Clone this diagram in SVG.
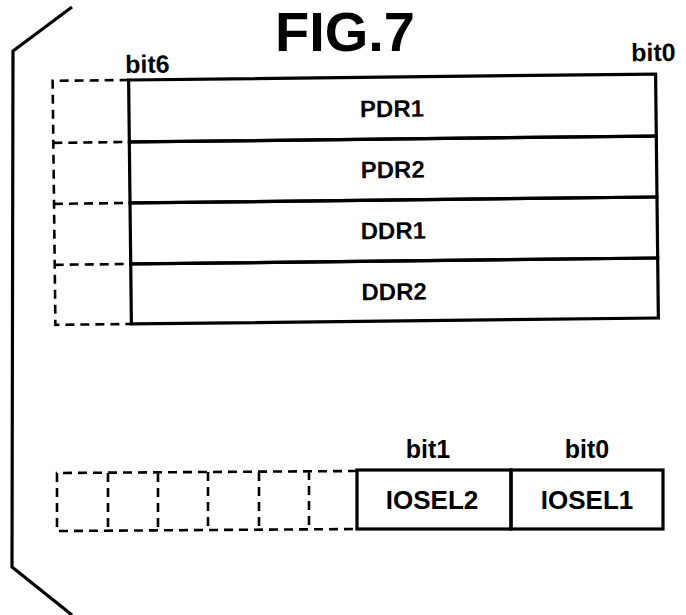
<svg xmlns="http://www.w3.org/2000/svg" width="686" height="615" viewBox="0 0 686 615">
<style>
.s{fill:none;stroke:#000;stroke-width:3.2}
.d{fill:none;stroke:#000;stroke-width:2.6;stroke-dasharray:9 6}
.t{font-family:"Liberation Sans",Arial,sans-serif;font-weight:bold;fill:#000;text-anchor:middle}
.lab{font-size:24px}
.io{font-size:26px}
.bit{font-size:25px}
</style>
<rect width="686" height="615" fill="#fff"/>
<text class="t" x="345" y="51" font-size="56">FIG.7</text>
<g id="bracket"><polyline class="s" points="72,7 13,51 12,567 72,615"/></g>
<g id="upper" transform="rotate(-0.65 393 200)">
  <text class="t bit" x="149" y="70">bit6</text>
  <text class="t bit" x="655" y="64">bit0</text>
  <g id="dashed-upper">
    <path class="d" d="M130,77 H54 V321 H130 M54,139 H130 M54,200 H130 M54,261 H130"/>
  </g>
  <g id="PDR1"><rect class="s" x="130" y="77" width="527" height="62"/><text class="t lab" x="393" y="117">PDR1</text></g>
  <g id="PDR2"><rect class="s" x="130" y="139" width="527" height="61"/><text class="t lab" x="393" y="178">PDR2</text></g>
  <g id="DDR1"><rect class="s" x="130" y="200" width="527" height="61"/><text class="t lab" x="393" y="239">DDR1</text></g>
  <g id="DDR2"><rect class="s" x="130" y="261" width="527" height="60"/><text class="t lab" x="393" y="300">DDR2</text></g>
</g>
<g id="lower">
  <g id="dashed-lower">
    <path class="d" d="M357,471 L57,473 V531 L357,529 M108,473 V531 M158,473 V530 M208,472 V530 M259,472 V530 M309,471 V529"/>
  </g>
  <text class="t bit" x="428" y="458">bit1</text>
  <text class="t bit" x="587" y="458">bit0</text>
  <g id="IOSEL2"><rect class="s" x="357" y="470" width="154" height="59"/><text class="t io" x="432" y="509">IOSEL2</text></g>
  <g id="IOSEL1"><rect class="s" x="511" y="470" width="152" height="59"/><text class="t io" x="587" y="509">IOSEL1</text></g>
</g>
</svg>
